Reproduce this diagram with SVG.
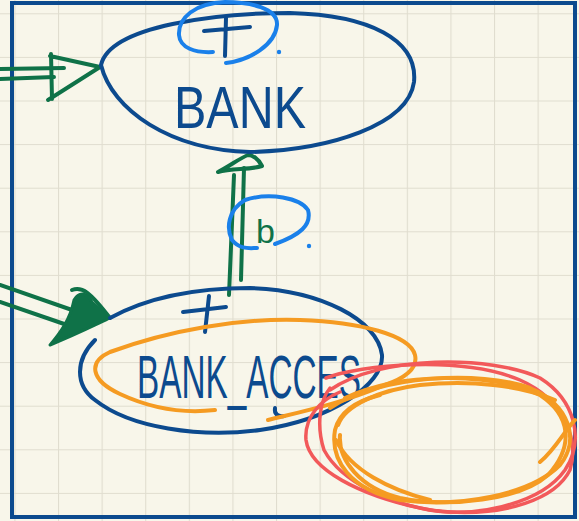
<svg xmlns="http://www.w3.org/2000/svg" width="579" height="521" viewBox="0 0 579 521">
<defs>
<pattern id="grid" x="14.4" y="13.3" width="43.6" height="43.6" patternUnits="userSpaceOnUse">
<path d="M0,0 H43.6 M0,0 V43.6" fill="none" stroke="#e0ddcf" stroke-width="2.2"/>
</pattern>
</defs>
<style>
.ink{fill:none;stroke:#0c4a8e;stroke-width:4;stroke-linecap:round;stroke-linejoin:round}
.lb{fill:none;stroke:#1a80ea;stroke-width:4;stroke-linecap:round}
.gr{fill:none;stroke:#0f7248;stroke-width:4;stroke-linecap:round;stroke-linejoin:round}
.or{fill:none;stroke:#f59b22;stroke-width:4;stroke-linecap:round}
.rd{fill:none;stroke:#f2595a;stroke-width:3.5;stroke-linecap:round}
.lbl{font-family:"Liberation Sans",Arial,sans-serif;fill:#0c4a8e}
</style>
<rect width="579" height="521" fill="#f8f6ea"/>
<rect width="579" height="521" fill="url(#grid)"/>
<rect x="12" y="3" width="563" height="514" fill="none" stroke="#0c4a8e" stroke-width="4"/>

<g id="connectors">
<g id="edge-in-bank">
<path class="gr" d="M0,69 L64,68 M0,79 L54,77"/>
<path class="gr" d="M51,54 L52,99 M50,56 L100,67 L48,100"/>
</g>
<g id="edge-access-bank">
<path class="gr" d="M229,295 L234,175 M241,280 L244,168"/>
<path class="gr" d="M218,172 C232,168 250,170 262,166 C258,158 252,155 248,155 C240,158 230,166 218,172 Z"/>
</g>
<g id="edge-in-access">
<path class="gr" d="M0,285 L95,318 M0,302 L70,326"/>
<path d="M50,345 C60,333 70,320 74,300 C80,290 88,294 92,302 L110,318 C95,325 75,335 50,345 Z" fill="#0f7248" stroke="#0f7248" stroke-width="3" stroke-linejoin="round"/>
<path class="gr" d="M72,290 C82,286 90,292 110,318"/>
</g>
</g>

<g id="BANK">
<path class="ink" d="M101,65 C110,25 220,13 290,13 C370,15 418,40 414,82 C408,125 330,150 250,152 C170,150 112,110 101,65 Z"/>
<path class="ink" d="M204,31 L250,27 M226,18 L225,56"/>
<text class="lbl" x="174" y="128" font-size="60" textLength="132" lengthAdjust="spacingAndGlyphs">BANK</text>
</g>

<g id="BANK_ACCES">
<path class="ink" d="M110,318 C150,296 200,288 250,288 C320,290 378,320 382,355 C384,385 330,420 260,430 C200,438 130,428 95,400 C75,385 75,360 95,340"/>
<path class="ink" d="M183,312 L226,307 M209,296 L205,332"/>
<text class="lbl" x="137" y="398" font-size="62" textLength="224" lengthAdjust="spacingAndGlyphs">BANK_ACCES</text>
<path class="ink" d="M275,408 C274,414 278,417 284,416"/>
</g>

<path class="lb" d="M226,63 C250,60 275,45 277,25 C278,8 250,2 225,2 C195,3 178,18 179,35 C180,48 195,53 213,52"/>
<circle cx="279" cy="52" r="2.2" fill="#1a80ea"/>
<path class="lb" d="M275,244 C300,235 312,225 308,210 C300,198 270,192 245,200 C228,210 226,228 232,240 C240,250 250,248 257,248"/>
<circle cx="309" cy="246" r="2.2" fill="#1a80ea"/>
<text x="256" y="243" font-family="Liberation Sans,Arial,sans-serif" font-size="34" fill="#0f7248">b</text>

<path class="or" d="M215,410 C180,414 150,408 120,394 C90,380 88,362 110,352 C170,330 240,318 300,320 C360,322 410,335 415,355 C418,368 405,378 385,385 C340,404 300,412 268,420"/>

<path class="rd" d="M330,390 C380,355 490,355 540,378 C575,400 585,440 565,470 C540,505 470,520 420,508 C360,495 310,470 306,440 C304,418 320,400 340,392"/>
<path class="rd" d="M326,378 C360,365 460,355 520,380 C565,400 579,440 570,470 C555,500 505,515 450,512 C390,508 340,480 324,450 C316,425 320,400 330,388"/>
<path class="or" d="M330,408 C380,375 480,370 530,388 C570,405 580,440 560,465 C530,495 460,508 400,500 C350,490 330,460 335,430 C340,410 360,400 380,395"/>
<path class="or" d="M345,398 C400,372 490,372 540,395 C570,415 575,445 548,475 C520,500 450,508 400,498 C360,488 338,460 340,435"/>
<path class="or" d="M336,440 C350,470 390,490 430,500 M540,462 C555,450 565,430 575,420 M338,425 C345,405 380,390 420,385 C470,380 520,385 555,400"/>
</svg>
